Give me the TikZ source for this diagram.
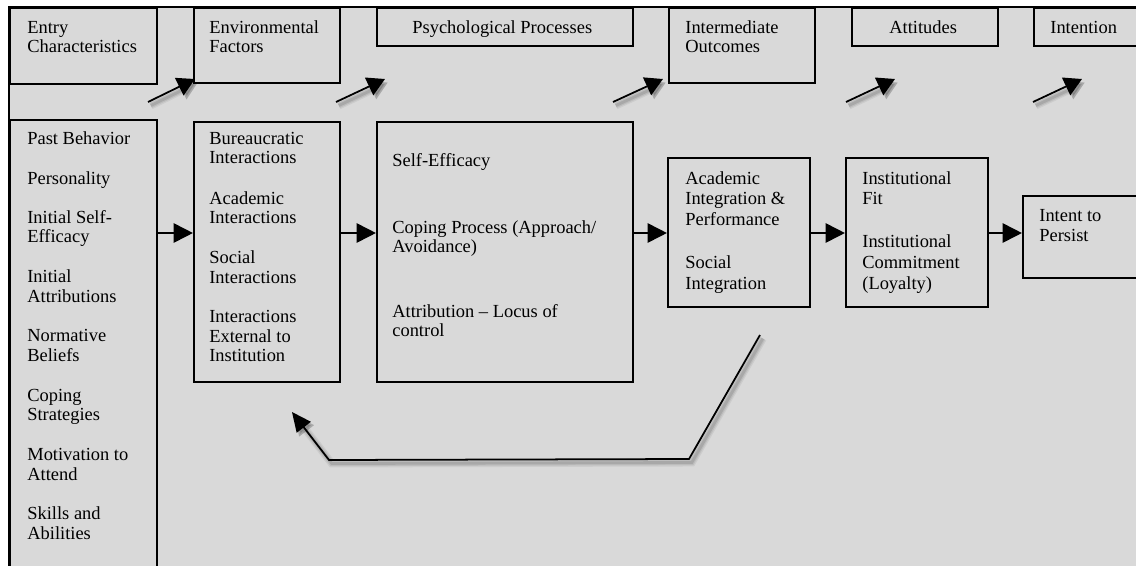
\documentclass[tikz,border=0pt]{standalone}
\usepackage{fontspec}
\setmainfont{Liberation Serif}
\usetikzlibrary{arrows.meta,fit}
\definecolor{panel}{RGB}{217,217,217}
\begin{document}
\begin{tikzpicture}[x=0.02cm,y=-0.02cm,
  box/.style={draw=black,line width=1.2pt,fill=panel,inner sep=0pt},
  txt/.style={anchor=west,inner sep=0pt,font=\fontsize{10.5}{12}\selectfont,
              text height=7pt,text depth=2pt},
  flow/.style={line width=1pt,-{Triangle[length=11pt,width=11pt]}},
  soft/.style={preaction={draw=black,opacity=0.06,line width=4.5pt,
                 transform canvas={xshift=1.6pt,yshift=-2pt}},
               preaction={draw=black,opacity=0.08,line width=3pt,
                 transform canvas={xshift=1.6pt,yshift=-2pt}},
               preaction={draw=black,opacity=0.10,line width=1.6pt,
                 transform canvas={xshift=1.6pt,yshift=-2pt}}},
  hint/.style={line width=1pt,-{Triangle[length=10pt,width=11pt]},soft},
  loop/.style={line width=1pt,-{Triangle[length=11pt,width=10pt]},soft}]

\useasboundingbox (0,0) rectangle (1136,565);
\clip (0,0) rectangle (1136,565);

% panel
\fill[white] (0,0) rectangle (1136,565);
\fill[panel] (9,7) rectangle (1145,575);
\draw[line width=1pt] (9,575) -- (9,7) -- (1145,7);

% header boxes
\node[box,fit={(10,8) (157,84)}] (hEntry) {};
\node[box,fit={(194,8) (340,83)}] (hEnv) {};
\node[box,fit={(377,8) (633,46)}] (hPsy) {};
\node[box,fit={(669,8) (815,83)}] (hInt) {};
\node[box,fit={(852,8) (998,46)}] (hAtt) {};
\node[box,fit={(1034,8) (1145,46)}] (hIntn) {};

% content boxes
\node[box,fit={(10,120) (157,600)}] (bEntry) {};
\node[box,fit={(194,122) (340,382)}] (bEnv) {};
\node[box,fit={(377,122) (633,382)}] (bPsy) {};
\node[box,fit={(668,158) (810,307)}] (bInt) {};
\node[box,fit={(846,158) (988,307)}] (bAtt) {};
\node[box,fit={(1023,196) (1145,278)}] (bIntn) {};

% header texts
\foreach \x/\y/\t [count=\i] in {
  27/29/{Entry}, 27/48/{Characteristics},
  209/29/{Environmental}, 209/48/{Factors},
  412/29/{Psychological Processes},
  685/29/{Intermediate}, 685/48/{Outcomes},
  889/29/{Attitudes}, 1050/29/{Intention}}
  \node[txt] (ht\i) at (\x,\y) {\t};

% entry characteristics
\foreach \y/\t [count=\i] in {
  140/{Past Behavior}, 180/{Personality},
  219/{Initial Self-}, 238/{Efficacy},
  278/{Initial}, 298/{Attributions},
  337/{Normative}, 357/{Beliefs},
  397/{Coping}, 416/{Strategies},
  456/{Motivation to}, 476/{Attend},
  515/{Skills and}, 535/{Abilities}}
  \node[txt] (et\i) at (27,\y) {\t};

% environmental factors
\foreach \y/\t [count=\i] in {
  140/{Bureaucratic}, 159/{Interactions},
  200/{Academic}, 219/{Interactions},
  259/{Social}, 279/{Interactions},
  318/{Interactions}, 338/{External to}, 357/{Institution}}
  \node[txt] (nt\i) at (209,\y) {\t};

% psychological processes
\foreach \y/\t [count=\i] in {
  162/{Self-Efficacy},
  229/{Coping Process (Approach/}, 248/{Avoidance)},
  313/{Attribution – Locus of}, 332/{control}}
  \node[txt] (pt\i) at (392,\y) {\t};

% intermediate outcomes
\foreach \y/\t [count=\i] in {
  180/{Academic}, 200/{Integration \&}, 221/{Performance},
  264/{Social}, 285/{Integration}}
  \node[txt] (it\i) at (685,\y) {\t};

% attitudes
\foreach \y/\t [count=\i] in {
  180/{Institutional}, 200/{Fit},
  243/{Institutional}, 264/{Commitment}, 285/{(Loyalty)}}
  \node[txt] (at\i) at (862,\y) {\t};

% intention
\node[txt] (ip1) at (1039,217) {Intent to};
\node[txt] (ip2) at (1039,237) {Persist};

% main flow
\coordinate (row) at (0,233);
\draw[flow] (bEntry.east |- row) -- (bEnv.west |- row);
\draw[flow] (bEnv.east |- row) -- (bPsy.west |- row);
\draw[flow] (bPsy.east |- row) -- (bInt.west |- row);
\draw[flow] (bInt.east |- row) -- (bAtt.west |- row);
\draw[flow] (bAtt.east |- row) -- (bIntn.west |- row);

% stage arrows between headers
\foreach \a/\b [count=\i] in {148/195, 336/385, 613/663, 846/895, 1033/1082} {
  \coordinate (s\i) at (\a,102);
  \coordinate (e\i) at (\b,79);
  \draw[hint] (s\i) -- (e\i);
}

% feedback loop
\coordinate (fb0) at (760,335);
\coordinate (fb1) at (689,459);
\coordinate (fb2) at (329,460);
\coordinate (fb3) at (292,412);
\draw[loop] (fb0) -- (fb1) -- (fb2) -- (fb3);

\end{tikzpicture}
\end{document}
